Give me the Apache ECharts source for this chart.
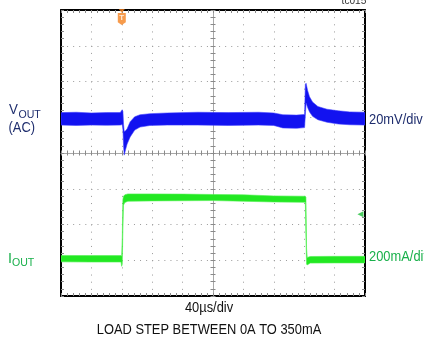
<!DOCTYPE html>
<html>
<head>
<meta charset="utf-8">
<script src="https://cdn.jsdelivr.net/npm/echarts@6/dist/echarts.min.js"></script>
<style>
  html, body { margin: 0; padding: 0; background: #fff; }
  #chart { width: 424px; height: 343px; }
</style>
</head>
<body>
<div id="chart"></div>
<script>
// Scope settings: 40 µs/div horizontally, 10 divisions; 8 vertical divisions
const TIME_PER_DIV = 40;            // µs
const VOUT_PER_DIV = 20;            // mV
const IOUT_PER_DIV = 200;           // mA
const VOUT_POS_DIV = 0.95;          // channel 1 position (divisions above centre)
const IOUT_POS_DIV = -2.96;         // channel 2 position
const TRIGGER_TIME = 80;            // µs
const TRIGGER_LEVEL = 250;          // mA

// VOUT (AC coupled), envelope of the noisy trace in mV
const voutTime = [0, 20, 40, 60, 78, 80.5, 81.5, 82.3, 83.2, 85, 87, 91, 97, 104, 117, 140, 180, 220, 260, 280, 292, 310, 320.5, 321.5, 322.5, 324.5, 327, 331, 338, 350, 365, 380, 400];
const voutHigh = [3.6, 3.8, 3.4, 3.6, 3.6, 5.2, 4.2, -3, -7, -6.5, -5.5, -1.5, 1.3, 2.4, 3.0, 3.4, 3.8, 3.6, 3.8, 3.4, 2.4, 2.2, 2.6, 19.5, 20, 16, 12.5, 9.5, 7, 5.5, 4.6, 4.0, 3.8];
const voutLow  = [-3.4, -3.6, -3.4, -3.5, -3.4, -3.0, -6, -15, -20.2, -17, -14, -10, -6.2, -4.5, -3.6, -3.4, -3.4, -3.6, -3.4, -3.6, -5.0, -5.2, -4.8, 2, 9, 6.5, 4, 1.5, -0.4, -1.8, -2.8, -3.2, -3.4];

// IOUT load step 0A -> 350mA -> 0A, envelope in mA
const ioutTime = [0, 40, 79, 79.8, 80.6, 81.4, 82.2, 84, 88, 120, 160, 200, 240, 280, 321.5, 322.3, 323.1, 324, 328, 360, 400];
const ioutHigh = [19, 18, 18, 14, 120, 330, 350, 358, 363, 363, 362, 360, 358, 352, 350, 345, 60, 8, 13, 14, 14];
const ioutLow  = [-17, -18, -18, -42, -30, 150, 300, 315, 322, 324, 325, 326, 322, 318, 316, 120, -30, -34, -24, -23, -23];

const FONT = "'Liberation Sans', Arial, Helvetica, sans-serif";
const NAVY = '#1f2e6e';
const GREEN_TEXT = '#19b04b';
const TRACE_BLUE = '#1212f0';
const TRACE_GREEN = '#22e822';
const GRID_GRAY = '#9a9a9a';
const TICK_GRAY = '#8a8a8a';

const DIVS_X = 10, DIVS_Y = 8;
const tMax = TIME_PER_DIV * DIVS_X;

const chart = echarts.init(document.getElementById('chart'), null, { renderer: 'canvas' });

const frameTicks = {
  axisTick: { show: true, inside: true, length: 3, lineStyle: { color: TICK_GRAY, width: 1 } },
  minorTick: { show: true, splitNumber: 5, length: 3, lineStyle: { color: TICK_GRAY, width: 1 } },
  axisLabel: { show: false }
};
const frameLine = { show: true, onZero: false, lineStyle: { color: '#000', width: 2 } };
const centreTicks = (showLine) => ({
  axisLine: { show: showLine, onZero: false, lineStyle: { color: '#a8a8a8', width: 1 } },
  axisTick: { show: true, inside: false, length: 2.5, lineStyle: { color: TICK_GRAY } },
  minorTick: { show: true, splitNumber: 5, length: 2.5, lineStyle: { color: TICK_GRAY } },
  axisLabel: { show: false },
  splitLine: { show: false }
});
const hidden = (idx, min, max) => ({ gridIndex: idx, type: 'value', show: false, min, max });

// A noisy scope trace drawn as the filled envelope between its low and high readings
function band(key, time, low, high, yAxisIndex, fill, edge) {
  return {
    type: 'custom', name: key, coordinateSystem: 'cartesian2d',
    xAxisIndex: 0, yAxisIndex, silent: true, clip: true,
    data: time.map((t, i) => [t, low[i], high[i]]),
    encode: { x: 0, y: [1, 2] },
    renderItem(params, api) {
      if (params.dataIndexInside !== 0) return null;
      const upper = time.map((t, i) => api.coord([t, high[i]]));
      const lower = time.map((t, i) => api.coord([t, low[i]])).reverse();
      return {
        type: 'polygon',
        shape: { points: upper.concat(lower) },
        style: { fill, stroke: edge, lineWidth: 1 }
      };
    }
  };
}

// Text label helper (slightly condensed face)
function label(text, x, y, size, fill, extra) {
  return Object.assign({
    type: 'text', x, y, scaleX: 0.92,
    style: Object.assign({ text, fontSize: size, fontFamily: FONT, fill, verticalAlign: 'middle' }, extra || {})
  });
}

const L = 61, T = 10, W = 304, H = 286;

const option = {
  animation: false,
  backgroundColor: '#fff',
  grid: [
    { left: L, top: T, width: W, height: H },
    { left: L, top: T, width: W, height: H / 2 },
    { left: L, top: T + H / 2, width: W, height: H / 2 },
    { left: L, top: T, width: W / 2, height: H },
    { left: L + W / 2, top: T, width: W / 2, height: H }
  ],
  xAxis: [
    Object.assign({ gridIndex: 0, type: 'value', position: 'bottom', min: 0, max: tMax, interval: TIME_PER_DIV,
      axisLine: frameLine,
      splitLine: { show: true, lineStyle: { color: GRID_GRAY, width: 1, type: [1, 6.15] } } }, frameTicks),
    Object.assign({ gridIndex: 0, type: 'value', position: 'top', min: 0, max: tMax, interval: TIME_PER_DIV,
      axisLine: frameLine, splitLine: { show: false } }, frameTicks),
    Object.assign({ gridIndex: 1, type: 'value', position: 'bottom', min: 0, max: tMax, interval: TIME_PER_DIV }, centreTicks(true)),
    Object.assign({ gridIndex: 2, type: 'value', position: 'top', min: 0, max: tMax, interval: TIME_PER_DIV }, centreTicks(false)),
    hidden(3, 0, 1),
    hidden(4, 0, 1)
  ],
  yAxis: [
    Object.assign({ gridIndex: 0, type: 'value', position: 'left', min: -DIVS_Y / 2, max: DIVS_Y / 2, interval: 1,
      axisLine: frameLine,
      splitLine: { show: true, lineStyle: { color: GRID_GRAY, width: 1, type: [1, 5.08] } } }, frameTicks),
    Object.assign({ gridIndex: 0, type: 'value', position: 'right', min: -DIVS_Y / 2, max: DIVS_Y / 2, interval: 1,
      axisLine: frameLine, splitLine: { show: false } }, frameTicks),
    hidden(0, (-DIVS_Y / 2 - VOUT_POS_DIV) * VOUT_PER_DIV, (DIVS_Y / 2 - VOUT_POS_DIV) * VOUT_PER_DIV),
    hidden(0, (-DIVS_Y / 2 - IOUT_POS_DIV) * IOUT_PER_DIV, (DIVS_Y / 2 - IOUT_POS_DIV) * IOUT_PER_DIV),
    hidden(1, 0, 1),
    hidden(2, 0, 1),
    Object.assign({ gridIndex: 3, type: 'value', position: 'right', min: -DIVS_Y / 2, max: DIVS_Y / 2, interval: 1 }, centreTicks(true)),
    Object.assign({ gridIndex: 4, type: 'value', position: 'left', min: -DIVS_Y / 2, max: DIVS_Y / 2, interval: 1 }, centreTicks(false))
  ],
  series: [
    band('vout', voutTime, voutLow, voutHigh, 2, TRACE_BLUE, 'rgba(60,60,255,0.55)'),
    band('iout', ioutTime, ioutLow, ioutHigh, 3, TRACE_GREEN, 'rgba(80,240,80,0.6)'),
    {
      // trigger position marker on the top edge
      type: 'scatter', xAxisIndex: 0, yAxisIndex: 0, silent: true, z: 6,
      data: [[TRIGGER_TIME, 3.97]],
      symbol: 'triangle', symbolRotate: 180, symbolSize: [6, 4],
      itemStyle: { color: '#f5821f' }
    },
    {
      type: 'scatter', xAxisIndex: 0, yAxisIndex: 0, silent: true, z: 6,
      data: [[TRIGGER_TIME, 3.75]],
      symbol: 'path://M0,0 L10,0 L10,11 L5,14 L0,11 Z', symbolSize: [8, 12],
      itemStyle: { color: '#f5821f' },
      label: { show: true, position: 'inside', formatter: 'T', color: '#fff', fontSize: 8, fontWeight: 'bold', fontFamily: FONT, offset: [0, -1] }
    },
    {
      // trigger level marker on the right edge
      type: 'scatter', xAxisIndex: 0, yAxisIndex: 3, silent: true, z: 6,
      data: [[394, TRIGGER_LEVEL]],
      symbol: 'triangle', symbolRotate: 90, symbolSize: [6, 6],
      itemStyle: { color: '#1fbf3a' }
    }
  ],
  graphic: [
    label('V', 9, 110, 14.5, NAVY),
    label('OUT', 18.5, 115, 11.5, NAVY),
    label('(AC)', 8.5, 128, 14, NAVY),
    label('20mV/div', 369, 120, 14, NAVY),
    label('I', 8, 259, 15.5, GREEN_TEXT),
    label('OUT', 12, 263, 11.5, GREEN_TEXT),
    label('200mA/div', 369, 257.5, 14, GREEN_TEXT),
    label('40µs/div', 209, 308, 14, '#111', { align: 'center' }),
    label('LOAD STEP BETWEEN 0A TO 350mA', 209, 330, 14, '#111', { align: 'center' }),
    label('tc015', 354, 6, 11, '#333', { align: 'center', verticalAlign: 'bottom' })
  ]
};

chart.setOption(option);
</script>
</body>
</html>
